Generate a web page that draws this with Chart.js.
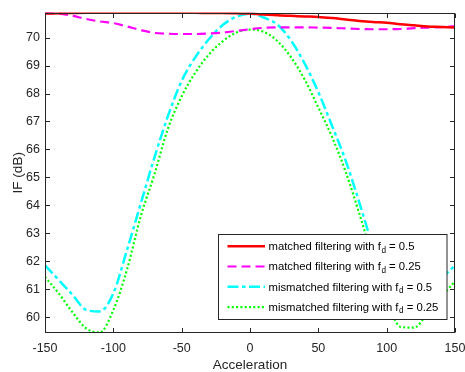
<!DOCTYPE html>
<html>
<head>
<meta charset="utf-8">
<title>IF vs Acceleration</title>
<script src="https://cdn.jsdelivr.net/npm/chart.js@4.4.0/dist/chart.umd.min.js"></script>
<style>
  html, body { margin: 0; padding: 0; background: #fff; }
  #wrap { width: 465px; height: 372px; }
</style>
</head>
<body>
<div id="wrap"><canvas id="ifChart" width="465" height="372"></canvas></div>
<script>
// acceleration samples and IF (dB) for each filter case
const acceleration = [-150, -140, -130, -120, -110, -100, -90, -80, -70, -60, -50, -40, -30, -20, -10, 0,
                      10, 20, 30, 40, 50, 60, 70, 80, 90, 100, 110, 120, 130, 140, 150];

const matched05 = [70.86, 70.87, 70.88, 70.89, 70.89, 70.89, 70.89, 70.89, 70.89, 70.89, 70.89, 70.89, 70.88, 70.88, 70.87, 70.86,
                   70.83, 70.80, 70.78, 70.76, 70.74, 70.70, 70.65, 70.60, 70.56, 70.53, 70.48, 70.44, 70.40, 70.38, 70.36];

const matched025 = [70.88, 70.86, 70.78, 70.67, 70.58, 70.52, 70.40, 70.27, 70.17, 70.14, 70.13, 70.13, 70.15, 70.18, 70.24, 70.30,
                    70.35, 70.37, 70.37, 70.37, 70.36, 70.35, 70.33, 70.31, 70.30, 70.30, 70.31, 70.34, 70.36, 70.38, 70.41];

const mismatched05 = [61.85, 61.33, 60.80, 60.26, 60.20, 60.85, 62.40, 64.05, 65.70, 67.20, 68.45, 69.30, 69.95, 70.45, 70.75, 70.86,
                      70.72, 70.47, 69.90, 69.07, 68.05, 66.85, 65.60, 64.10, 62.50, 61.10, 60.25, 60.35, 60.85, 61.37, 61.85];

const mismatched025 = [61.44, 60.85, 60.18, 59.60, 59.45, 60.25, 61.70, 63.60, 65.10, 66.75, 67.90, 68.75, 69.40, 69.87, 70.18, 70.29,
                       70.21, 69.88, 69.30, 68.50, 67.50, 66.45, 65.20, 63.70, 62.10, 60.70, 59.65, 59.62, 60.15, 60.72, 61.28];

const xTicks = [-150, -100, -50, 0, 50, 100, 150];
const yTicks = [60, 61, 62, 63, 64, 65, 66, 67, 68, 69, 70];
const yMin = 59.43, yMax = 70.9;

// legend text split as [text, subscript, text]
const legendLabels = [
    ['matched filtering with f', 'd', ' = 0.5'],
    ['matched filtering with f', 'd', ' = 0.25'],
    ['mismatched filtering with f', 'd', ' = 0.5'],
    ['mismatched filtering with f', 'd', ' = 0.25']
];

const axisColor = '#262626';
const fontFamily = "'Liberation Sans', Arial, Helvetica, sans-serif";

function toPoints(values) {
    return acceleration.map((x, i) => ({ x: x, y: values[i] }));
}

// box around the axes with inward ticks, then the legend on top
const boxAndLegend = {
    id: 'boxAndLegend',
    afterDraw(chart) {
        const ctx = chart.ctx;
        const a = chart.chartArea;
        const sx = chart.scales.x, sy = chart.scales.y;
        const L = Math.round(a.left) + 0.5, R = Math.round(a.right) - 0.5;
        const T = Math.round(a.top) + 0.5, B = Math.round(a.bottom) - 0.5;
        const tick = 4.5;

        ctx.save();
        ctx.strokeStyle = axisColor;
        ctx.lineWidth = 1;
        ctx.setLineDash([]);
        ctx.strokeRect(L, T, R - L, B - T);
        ctx.beginPath();
        xTicks.forEach(v => {
            const px = Math.round(sx.getPixelForValue(v)) + 0.5;
            ctx.moveTo(px, B); ctx.lineTo(px, B - tick);
            ctx.moveTo(px, T); ctx.lineTo(px, T + tick);
        });
        yTicks.forEach(v => {
            const py = Math.round(sy.getPixelForValue(v)) + 0.5;
            ctx.moveTo(L, py); ctx.lineTo(L + tick, py);
            ctx.moveTo(R, py); ctx.lineTo(R - tick, py);
        });
        ctx.stroke();

        // legend
        const lx = 218.5, ly = 234.5, lw = 228.5, lh = 85;
        ctx.fillStyle = '#fff';
        ctx.fillRect(lx, ly, lw, lh);
        ctx.strokeStyle = axisColor;
        ctx.strokeRect(lx, ly, lw, lh);

        const rowY = [246.3, 266.5, 286.8, 307.1];
        chart.data.datasets.forEach((ds, i) => {
            const y = rowY[i];
            ctx.strokeStyle = ds.borderColor;
            ctx.lineWidth = ds.borderWidth;
            ctx.setLineDash(ds.borderDash || []);
            ctx.beginPath();
            ctx.moveTo(227.5, y);
            ctx.lineTo(265, y);
            ctx.stroke();

            const parts = legendLabels[i];
            let tx = 268.5;
            ctx.fillStyle = '#000';
            ctx.textBaseline = 'alphabetic';
            ctx.textAlign = 'left';
            ctx.font = '11.3px ' + fontFamily;
            ctx.fillText(parts[0], tx, y + 3.8);
            tx += ctx.measureText(parts[0]).width + 0.5;
            ctx.font = '8.2px ' + fontFamily;
            ctx.fillText(parts[1], tx, y + 6.2);
            tx += ctx.measureText(parts[1]).width;
            ctx.font = '11.3px ' + fontFamily;
            ctx.fillText(parts[2], tx, y + 3.8);
        });
        ctx.restore();
    }
};

const ctx = document.getElementById('ifChart').getContext('2d');
const ifChart = new Chart(ctx, {
    type: 'line',
    data: {
        datasets: [{
            label: 'matched filtering with fd = 0.5',
            data: toPoints(matched05),
            borderColor: '#ff0000',
            borderWidth: 2.5
        }, {
            label: 'matched filtering with fd = 0.25',
            data: toPoints(matched025),
            borderColor: '#ff00ff',
            borderWidth: 2.2,
            borderDash: [9, 5]
        }, {
            label: 'mismatched filtering with fd = 0.5',
            data: toPoints(mismatched05),
            borderColor: '#00ffff',
            borderWidth: 2.5,
            borderDash: [11, 3.5, 3.5, 3.5]
        }, {
            label: 'mismatched filtering with fd = 0.25',
            data: toPoints(mismatched025),
            borderColor: '#00ff00',
            borderWidth: 2.2,
            borderDash: [2, 2.3]
        }]
    },
    options: {
        responsive: false,
        animation: false,
        devicePixelRatio: 1,
        layout: { padding: { top: 9, right: 10, left: 0, bottom: 0 } },
        elements: {
            point: { radius: 0 },
            line: { cubicInterpolationMode: 'monotone', borderCapStyle: 'butt' }
        },
        scales: {
            x: {
                type: 'linear',
                min: -150,
                max: 150,
                grid: { display: false, drawTicks: false },
                border: { display: false },
                afterBuildTicks: scale => { scale.ticks = xTicks.map(v => ({ value: v })); },
                afterFit: scale => { scale.height = 39; scale.paddingLeft = 0; scale.paddingRight = 0; },
                ticks: {
                    color: axisColor,
                    padding: 8,
                    maxRotation: 0,
                    font: { family: fontFamily, size: 12.5 }
                },
                title: {
                    display: true,
                    text: 'Acceleration',
                    color: axisColor,
                    padding: { top: 0, bottom: 0 },
                    font: { family: fontFamily, size: 13.5, lineHeight: 1 }
                }
            },
            y: {
                min: yMin,
                max: yMax,
                grid: { display: false, drawTicks: false },
                border: { display: false },
                afterBuildTicks: scale => { scale.ticks = yTicks.map(v => ({ value: v })); },
                afterFit: scale => { scale.width = 45; },
                ticks: {
                    color: axisColor,
                    padding: 5,
                    font: { family: fontFamily, size: 12.5 }
                },
                title: {
                    display: true,
                    text: 'IF (dB)',
                    color: axisColor,
                    padding: { top: 11.5, bottom: 0 },
                    font: { family: fontFamily, size: 13.5, lineHeight: 1 }
                }
            }
        },
        plugins: {
            legend: { display: false },
            tooltip: { enabled: false }
        }
    },
    plugins: [boxAndLegend]
});
</script>
</body>
</html>
